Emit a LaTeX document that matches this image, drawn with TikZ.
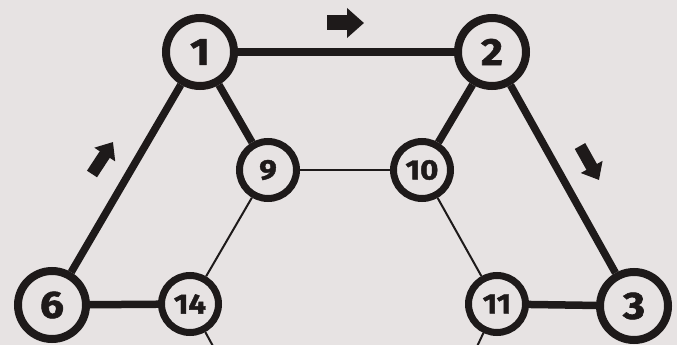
\documentclass[tikz,border=0pt]{standalone}
\usepackage{fontspec}
\setsansfont{Fira Sans}
\newfontfamily\numfont[BoldFeatures={FakeBold=1.6}, FakeStretch=1.12]{Fira Sans}
\usepackage{xcolor}
\usetikzlibrary{arrows.meta}

\definecolor{paper}{RGB}{231,227,227}
\definecolor{ink}{RGB}{30,26,26}

\begin{document}
\begin{tikzpicture}[
		x=1pt, y=-1pt,
		bignode/.style={circle, draw=ink, line width=8pt, fill=paper, minimum size=68pt, inner sep=0pt,
			text=ink, font=\numfont\bfseries\fontsize{38}{38}\selectfont},
		smallnode/.style={circle, draw=ink, line width=7pt, fill=paper, minimum size=57pt, inner sep=0pt,
			text=ink, font=\numfont\bfseries\fontsize{28}{28}\selectfont},
		heavy/.style={draw=ink, line width=7.5pt},
		light/.style={draw=ink, line width=2pt},
		pointer/.style={ink, line width=15pt, -{Triangle[width=29pt, length=17pt]}},
		smallpointer/.style={ink, line width=12pt, -{Triangle[width=24pt, length=15pt]}}
		]
		
		% ==========================================
		% PAPER
		% ==========================================
		\fill[paper] (0,0) rectangle (677,345);
		\useasboundingbox (0,0) rectangle (677,345);
		\clip (0,0) rectangle (677,345);
		
		% ==========================================
		% STATIONS
		% ==========================================
		\node[bignode] (n1) at (200,52) {1};
		\node[bignode] (n2) at (492,52) {2};
		\node[smallnode] (n9) at (268,170) {9};
		\node[smallnode] (n10) at (422,170) {10};
		\node[bignode] (n6) at (52,305) {6};
		\node[smallnode] (n14) at (190,304) {14};
		\node[smallnode] (n11) at (497,304) {11};
		\node[bignode] (n3) at (634,306) {3};
		
		% loose ends below the picture
		\coordinate (s14) at (226,370);
		\coordinate (s11) at (466,370);
		
		% ==========================================
		% ROUTE (thick) AND OTHER LINKS (thin)
		% ==========================================
		\draw[heavy] (n1) -- (n2);
		\draw[heavy] (n2) -- (n3);
		\draw[heavy] (n3) -- (n11);
		\draw[heavy] (n1) -- (n6);
		\draw[heavy] (n6) -- (n14);
		\draw[heavy] (n1) -- (n9);
		\draw[heavy] (n2) -- (n10);
		
		\draw[light] (n9) -- (n10);
		\draw[light] (n9) -- (n14);
		\draw[light] (n10) -- (n11);
		\draw[light] (n14) -- (s14);
		\draw[light] (n11) -- (s11);
		
		% ==========================================
		% DIRECTION ARROWS
		% ==========================================
		\coordinate (a1) at (327,23);
		\coordinate (b1) at (364,23);
		\draw[pointer] (a1) -- (b1);
		
		\coordinate (a2) at (92,174);
		\coordinate (b2) at (113,142);
		\draw[smallpointer] (a2) -- (b2);
		
		\coordinate (a3) at (580,146);
		\coordinate (b3) at (599,180);
		\draw[smallpointer] (a3) -- (b3);
		
	\end{tikzpicture}
\end{document}
